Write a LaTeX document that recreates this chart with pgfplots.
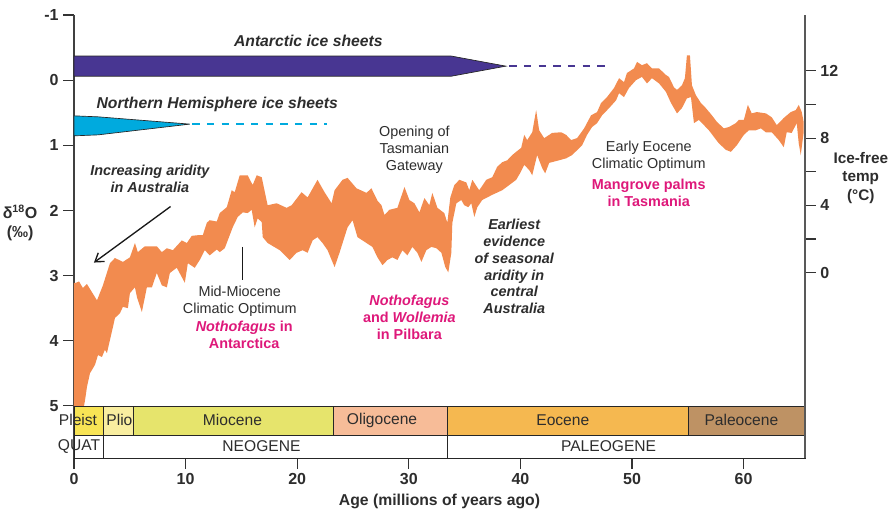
\documentclass[border=0pt]{standalone}
\usepackage{fontspec}
\setmainfont{Liberation Sans}
\usepackage{pgfplots}
\pgfplotsset{compat=1.18}
\usepgfplotslibrary{fillbetween}
\usetikzlibrary{arrows.meta}

\definecolor{band}{RGB}{242,139,79}
\definecolor{antarc}{RGB}{72,54,146}
\definecolor{nhice}{RGB}{0,170,222}
\definecolor{mag}{RGB}{222,24,122}
\definecolor{txt}{RGB}{45,45,45}
\definecolor{pleist}{RGB}{248,228,85}
\definecolor{plio}{RGB}{249,238,160}
\definecolor{mio}{RGB}{230,228,108}
\definecolor{oligo}{RGB}{247,188,152}
\definecolor{eoc}{RGB}{245,184,80}
\definecolor{paleo}{RGB}{190,146,100}

\newcommand\fa{\fontsize{10.8}{12.6}\selectfont}
\newcommand\fb{\fontsize{11.7}{14}\selectfont}
\newcommand\ft{\fontsize{12}{14.5}\selectfont\bfseries}

\begin{document}
\begin{tikzpicture}
\begin{axis}[
    scale only axis,
    width=548.25pt, height=332.25pt,
    xmin=0, xmax=65.5,
    ymin=-1, ymax=5.8,
    y dir=reverse,
    axis x line*=bottom,
    axis y line*=left,
    axis line style={-, black!75, line width=1pt},
    xtick={0,10,...,60},
    ytick={-1,0,...,5},
    tick align=outside,
    major tick length=8pt,
    tick style={black!80, line width=0.8pt},
    /pgf/number format/assume math mode=true,
    ticklabel style={font=\ft, text=txt},
    xlabel={Age (millions of years ago)},
    xlabel style={font=\fontsize{11.8}{14}\selectfont\bfseries, text=txt},
    clip=false,
]
\coordinate (O) at (axis cs:0,5.8);

% oxygen isotope band: warm (upper) and cold (lower) edges
\addplot[name path=top, draw=none] coordinates {
(0,3.11) (0.18,3.11) (0.45,3.09) (0.80,3.19) (1.16,3.13) (2.06,3.38) (2.59,3.15) (3.22,2.81)
(3.67,2.73) (4.38,2.79) (5.01,2.72) (5.46,2.50) (5.72,2.64) (6.35,2.55) (7.42,2.55) (7.87,2.64)
(8.32,2.58) (8.86,2.61) (9.66,2.46) (10.11,2.50) (10.55,2.39) (11.09,2.38) (11.54,2.38) (11.90,2.19)
(12.16,2.15) (12.79,2.17) (13.06,2.04) (13.69,1.95) (14.13,1.69) (14.40,1.72) (14.85,1.46) (15.56,1.46)
(16.01,1.61) (16.37,1.46) (16.82,1.49) (17.35,1.92) (18.16,1.89) (19.05,1.96) (19.50,1.92) (20.39,1.72)
(20.93,1.80) (21.82,1.53) (22.45,1.72) (23.08,1.89) (23.35,1.69) (24.06,1.53) (24.51,1.50) (25.31,1.66)
(26.21,1.73) (26.65,1.66) (27.19,1.85) (27.55,1.92) (27.82,2.07) (28.26,1.99) (28.98,1.96) (29.61,1.64)
(30.05,1.84) (30.50,1.89) (30.95,2.03) (31.40,1.81) (31.84,1.92) (32.11,1.73) (32.56,1.96) (33.18,2.04)
(33.45,2.19) (33.72,1.80) (34.08,1.61) (34.53,1.53) (35.15,1.57) (35.42,1.69) (35.69,1.53) (36.31,1.69)
(36.94,1.53) (37.48,1.49) (37.92,1.33) (38.37,1.26) (38.82,1.23) (39.27,1.15) (39.62,1.10) (40.07,1.04)
(40.34,0.84) (40.61,0.92) (41.06,0.80) (41.41,0.46) (41.68,0.77) (42.13,0.89) (42.58,0.84) (42.84,0.81)
(43.65,0.80) (44.10,0.84) (44.54,0.92) (45.08,0.89) (45.71,0.74) (46.33,0.54) (46.87,0.49) (47.23,0.35)
(47.76,0.26) (48.39,0.12) (48.84,-0.03) (49.28,0.03) (49.55,-0.11) (50.18,-0.18) (50.45,-0.28) (50.89,-0.23)
(51.34,-0.26) (51.79,-0.18) (52.42,-0.18) (53.04,-0.08) (53.31,-0.05) (53.76,0.11) (54.03,0.15) (54.47,0.08)
(54.74,-0.03) (54.92,-0.38) (55.19,-0.38) (55.37,0.08) (55.72,0.23) (56.17,0.35) (56.62,0.43) (57.16,0.54)
(57.60,0.64) (58.23,0.74) (58.68,0.72) (59.30,0.66) (59.57,0.61) (60.02,0.61) (60.38,0.38) (60.73,0.51)
(61.18,0.49) (61.99,0.51) (62.52,0.57) (62.97,0.69) (63.60,0.58) (64.22,0.49) (64.67,0.46) (64.94,0.38)
(65.21,0.49) (65.38,0.64)
};
\addplot[name path=bot, draw=none] coordinates {
(0,5.00) (0.90,5.00) (1.00,4.90) (1.16,4.71) (1.43,4.50) (1.88,4.37) (2.15,4.22) (2.50,4.25)
(2.77,4.14) (2.95,4.19) (3.22,3.99) (3.49,3.79) (3.67,3.65) (4.11,3.58) (4.38,3.48) (4.83,3.50)
(5.01,3.27) (5.46,3.18) (5.64,3.33) (6.08,3.56) (6.53,3.18) (6.98,3.18) (7.42,2.96) (7.87,3.15)
(8.32,3.18) (8.59,2.96) (9.21,2.88) (9.93,3.11) (10.20,2.81) (10.82,2.88) (11.27,2.76) (11.72,2.61)
(12.16,2.69) (12.79,2.60) (13.06,2.64) (13.51,2.58) (14.22,2.26) (14.67,2.10) (15.12,2.03) (15.56,2.04)
(15.92,1.99) (16.19,2.26) (16.46,2.12) (16.82,2.18) (16.91,2.41) (17.35,2.50) (18.43,2.61) (19.32,2.76)
(19.95,2.65) (20.48,2.61) (20.93,2.65) (21.38,2.46) (21.82,2.41) (22.27,2.50) (22.72,2.61) (23.35,2.87)
(23.79,2.65) (24.51,2.26) (24.96,2.15) (25.40,2.41) (25.85,2.46) (26.74,2.56) (27.19,2.72) (27.64,2.84)
(28.09,2.76) (28.53,2.72) (28.98,2.76) (29.43,2.61) (29.87,2.69) (30.32,2.56) (30.77,2.65) (31.13,2.79)
(31.57,2.61) (32.02,2.56) (32.47,2.58) (32.92,2.65) (33.27,2.87) (33.54,2.95) (33.81,2.65) (33.90,2.19)
(34.26,1.89) (34.70,1.84) (34.97,1.92) (35.33,1.95) (35.60,1.89) (35.87,2.10) (36.14,1.95) (36.58,1.84)
(37.48,1.76) (38.37,1.69) (39.00,1.61) (39.62,1.53) (40.00,1.42) (40.34,1.30) (40.79,1.38) (41.06,1.46)
(41.50,1.15) (41.95,1.35) (42.22,1.43) (42.58,1.27) (43.47,1.23) (44.10,1.20) (44.63,1.15) (45.53,1.00)
(45.97,0.84) (46.42,0.72) (46.87,0.66) (47.32,0.54) (47.94,0.43) (48.57,0.31) (48.84,0.20) (49.28,0.26)
(49.73,0.12) (50.36,0.00) (50.89,-0.05) (51.34,0.05) (51.79,-0.03) (52.42,0.05) (53.04,0.18) (53.49,0.35)
(54.03,0.51) (54.47,0.43) (54.92,0.28) (55.28,0.26) (55.55,0.66) (55.99,0.61) (56.44,0.69) (56.89,0.77)
(57.33,0.87) (57.78,0.97) (58.41,1.07) (58.86,1.10) (59.39,1.00) (60.02,0.84) (60.47,0.77) (61.09,0.77)
(61.54,0.74) (61.99,0.80) (62.52,0.80) (63.15,0.92) (63.60,1.03) (63.86,0.80) (64.31,0.81) (64.76,0.66)
(64.94,0.97) (65.12,1.15) (65.38,0.80)
};
\addplot[band] fill between[of=top and bot];

% ice sheets
\addplot[fill=antarc, draw=black!85, line width=0.5pt] coordinates {
(0,-0.37) (33.8,-0.37) (38.7,-0.215) (33.8,-0.06) (0,-0.06)} -- cycle;
\addplot[antarc, line width=2pt, dash pattern=on 5.5pt off 5.5pt] coordinates {(39.0,-0.215) (47.8,-0.215)};
\addplot[fill=nhice, draw=black!85, line width=0.5pt] coordinates {
(0,0.548) (2.15,0.563) (10.38,0.675) (2.15,0.84) (0,0.855)} -- cycle;
\addplot[nhice, line width=2pt, dash pattern=on 5.5pt off 5.5pt] coordinates {(10.6,0.675) (22.7,0.675)};

% epochs
\addplot[fill=pleist, draw=black!85] coordinates {(0,5) (2.6,5) (2.6,5.447) (0,5.447)} -- cycle;
\addplot[fill=plio, draw=black!85] coordinates {(2.6,5) (5.3,5) (5.3,5.447) (2.6,5.447)} -- cycle;
\addplot[fill=mio, draw=black!85] coordinates {(5.3,5) (23.2,5) (23.2,5.447) (5.3,5.447)} -- cycle;
\addplot[fill=oligo, draw=black!85] coordinates {(23.2,5) (33.45,5) (33.45,5.447) (23.2,5.447)} -- cycle;
\addplot[fill=eoc, draw=black!85] coordinates {(33.45,5) (55.0,5) (55.0,5.447) (33.45,5.447)} -- cycle;
\addplot[fill=paleo, draw=black!85] coordinates {(55.0,5) (65.5,5) (65.5,5.447) (55.0,5.447)} -- cycle;
% periods
\addplot[fill=white, draw=black!85] coordinates {(0,5.447) (2.6,5.447) (2.6,5.8) (0,5.8)} -- cycle;
\addplot[fill=white, draw=black!85] coordinates {(2.6,5.447) (33.45,5.447) (33.45,5.8) (2.6,5.8)} -- cycle;
\addplot[fill=white, draw=black!85] coordinates {(33.45,5.447) (65.5,5.447) (65.5,5.8) (33.45,5.8)} -- cycle;

\begin{scope}[every node/.style={font=\fb, text=txt}]
\node at (axis cs:0.36,5.22) {Pleist};
\node at (axis cs:4.07,5.22) {Plio};
\node at (axis cs:14.2,5.22) {Miocene};
\node at (axis cs:27.6,5.22) {Oligocene};
\node at (axis cs:43.8,5.22) {Eocene};
\node at (axis cs:59.8,5.22) {Paleocene};
\node at (axis cs:0.45,5.62) {QUAT};
\node at (axis cs:16.8,5.62) {NEOGENE};
\node at (axis cs:47.9,5.62) {PALEOGENE};
\end{scope}

% annotations
\node[font=\fontsize{11.8}{14}\selectfont\bfseries\itshape, text=txt] at (axis cs:21.0,-0.61) {Antarctic ice sheets};
\node[font=\fontsize{11.8}{14}\selectfont\bfseries\itshape, text=txt] at (axis cs:12.84,0.38) {Northern Hemisphere ice sheets};
\node[align=center, font=\fa\bfseries\itshape, text=txt] at (axis cs:6.8,1.51) {Increasing aridity\\in Australia};
\draw[-{Straight Barb[length=6pt,width=8pt]}, line width=1pt, black!90] (axis cs:8.65,1.94) -- (axis cs:1.79,2.80);
\draw[line width=0.8pt, black!90] (axis cs:15.1,2.56) -- (axis cs:15.1,3.07);
\node[align=center, font=\fa, text=txt] at (axis cs:14.85,3.39) {Mid-Miocene\\Climatic Optimum};
\node[align=center, font=\fa\bfseries, text=mag] at (axis cs:15.25,3.91) {\textit{Nothofagus} in\\Antarctica};
\node[align=center, font=\fa, text=txt] at (axis cs:30.5,1.07) {Opening of\\Tasmanian\\Gateway};
\node[align=center, font=\fa\bfseries, text=mag] at (axis cs:30.05,3.64) {\textit{Nothofagus}\\and \textit{Wollemia}\\in Pilbara};
\node[align=center, font=\fa\bfseries\itshape, text=txt] at (axis cs:39.45,2.86) {Earliest\\evidence\\of seasonal\\aridity in\\central\\Australia};
\node[align=center, font=\fa, text=txt] at (axis cs:51.5,1.17) {Early Eocene\\Climatic Optimum};
\node[align=center, font=\fa\bfseries, text=mag] at (axis cs:51.5,1.73) {Mangrove palms\\in Tasmania};

% axis titles
\node[align=center, font=\fontsize{12}{14.5}\selectfont\bfseries, text=txt] at (axis cs:-4.83,2.19) {δ\textsuperscript{18}O\\(‰)};
\node[align=center, font=\fontsize{11.5}{14}\selectfont\bfseries, text=txt] at (axis cs:70.5,1.50) {Ice-free\\temp\\(°C)};
\end{axis}

\begin{axis}[
    scale only axis,
    width=548.25pt, height=332.25pt,
    xmin=0, xmax=65.5,
    ymin=-11.01, ymax=15.31,
    axis x line=none,
    axis y line*=right,
    axis line style={-, black!65, line width=1pt},
    ytick={0,4,8,12},
    minor ytick={2,6,10},
    tick align=outside,
    major tick length=8pt,
    minor tick length=8pt,
    tick style={black!80, line width=0.8pt},
    /pgf/number format/assume math mode=true,
    ticklabel style={font=\ft, text=txt},
]
\addplot[draw=none] coordinates {(0,0)};
\end{axis}

\pgfresetboundingbox
\path ([shift={(-55.5pt,-42.75pt)}]O) rectangle ([shift={(615pt,343.5pt)}]O);
\end{tikzpicture}
\end{document}
